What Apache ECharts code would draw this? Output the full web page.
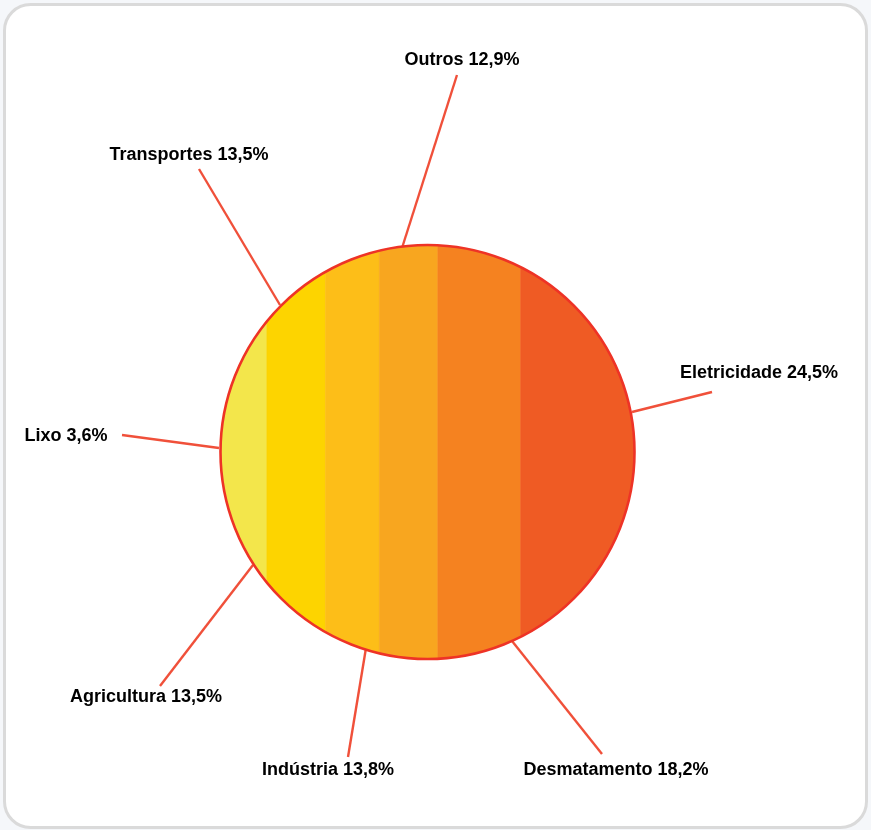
<!DOCTYPE html>
<html>
<head>
<meta charset="utf-8">
<script src="https://cdn.jsdelivr.net/npm/echarts@6/dist/echarts.min.js"></script>
<style>
html,body{margin:0;padding:0;background:#F5F7FA;}
#chart{width:871px;height:830px;}
</style>
</head>
<body>
<div id="chart"></div>
<script>
// ---- data ----
var categories = ['Outros', 'Transportes', 'Lixo', 'Eletricidade', 'Agricultura', 'Indústria', 'Desmatamento'];
var values = [12.9, 13.5, 3.6, 24.5, 13.5, 13.8, 18.2];
// vertical band edges of the decorative circle (normalized, -1 = left edge, 1 = right edge)
var stripeEdges = [-1, -0.776, -0.493, -0.233, 0.05, 0.45, 1];
var stripeColors = ['#F3E64B', '#FDD400', '#FDBE18', '#F8A61F', '#F58220', '#EF5B24'];

// ---- layout (pixel space of the hidden grid) ----
var circle = {cx: 427.5, cy: 452, r: 207};
// label anchor [x, y] and leader line [x1, y1, x2, y2]
var labelPos = [[462, 60], [189, 155], [66, 436], [759, 373], [146, 697], [328, 770], [616, 770]];
var leaders = [
  [457, 75, 402, 248],
  [199, 169, 280, 305],
  [122, 435, 219, 448],
  [712, 392, 632, 412],
  [160, 686, 253, 565],
  [348, 757, 366, 648],
  [602, 754, 512, 641]
];

var stripeData = [];
for (var i = 0; i < stripeEdges.length - 1; i++) stripeData.push([stripeEdges[i], stripeEdges[i + 1], i]);

var labelData = categories.map(function (c, i) { return [i, values[i]]; });

function fmt(v) { return v.toFixed(1).replace('.', ','); }

var chart = echarts.init(document.getElementById('chart'));
chart.setOption({
  backgroundColor: '#F5F7FA',
  animation: false,
  graphic: [{
    type: 'rect', z: -10,
    shape: {x: 4.5, y: 4.5, width: 862, height: 823, r: 26},
    style: {fill: '#FFFFFF', stroke: '#DADADA', lineWidth: 3}
  }],
  grid: {left: 0, right: 0, top: 0, bottom: 0},
  xAxis: {type: 'value', min: 0, max: 871, show: false},
  yAxis: {type: 'value', min: 0, max: 830, inverse: true, show: false},
  series: [
    {
      type: 'custom',
      coordinateSystem: 'cartesian2d',
      data: stripeData,
      z: 2,
      renderItem: function (params, api) {
        var u0 = api.value(0), u1 = api.value(1), idx = api.value(2);
        var pts = [], N = 40, k, u;
        for (k = 0; k <= N; k++) {
          u = u0 + (u1 - u0) * k / N;
          pts.push(api.coord([circle.cx + u * circle.r, circle.cy - Math.sqrt(Math.max(0, 1 - u * u)) * circle.r]));
        }
        for (k = N; k >= 0; k--) {
          u = u0 + (u1 - u0) * k / N;
          pts.push(api.coord([circle.cx + u * circle.r, circle.cy + Math.sqrt(Math.max(0, 1 - u * u)) * circle.r]));
        }
        return {
          type: 'polygon',
          shape: {points: pts},
          style: {fill: stripeColors[idx], stroke: stripeColors[idx], lineWidth: 0.6}
        };
      }
    },
    {
      type: 'custom',
      coordinateSystem: 'cartesian2d',
      data: [[circle.cx, circle.cy, circle.r]],
      z: 3,
      renderItem: function (params, api) {
        var c = api.coord([api.value(0), api.value(1)]);
        var rr = api.size([api.value(2), 0])[0];
        return {
          type: 'circle',
          shape: {cx: c[0], cy: c[1], r: rr},
          style: {fill: 'none', stroke: '#EE3326', lineWidth: 2.6}
        };
      }
    },
    {
      type: 'custom',
      coordinateSystem: 'cartesian2d',
      data: labelData,
      z: 1,
      renderItem: function (params, api) {
        var i = api.value(0);
        var L = leaders[i];
        var p1 = api.coord([L[0], L[1]]), p2 = api.coord([L[2], L[3]]);
        var tp = api.coord(labelPos[i]);
        return {
          type: 'group',
          children: [
            {type: 'line', shape: {x1: p1[0], y1: p1[1], x2: p2[0], y2: p2[1]},
             style: {stroke: '#F0503A', lineWidth: 2.4}},
            {type: 'text', x: tp[0], y: tp[1],
             style: {text: categories[i] + ' ' + fmt(api.value(1)) + '%',
                     fill: '#000000', font: 'bold 18px "Liberation Sans", Arial, sans-serif',
                     align: 'center', verticalAlign: 'middle'}}
          ]
        };
      }
    }
  ]
});
</script>
</body>
</html>
